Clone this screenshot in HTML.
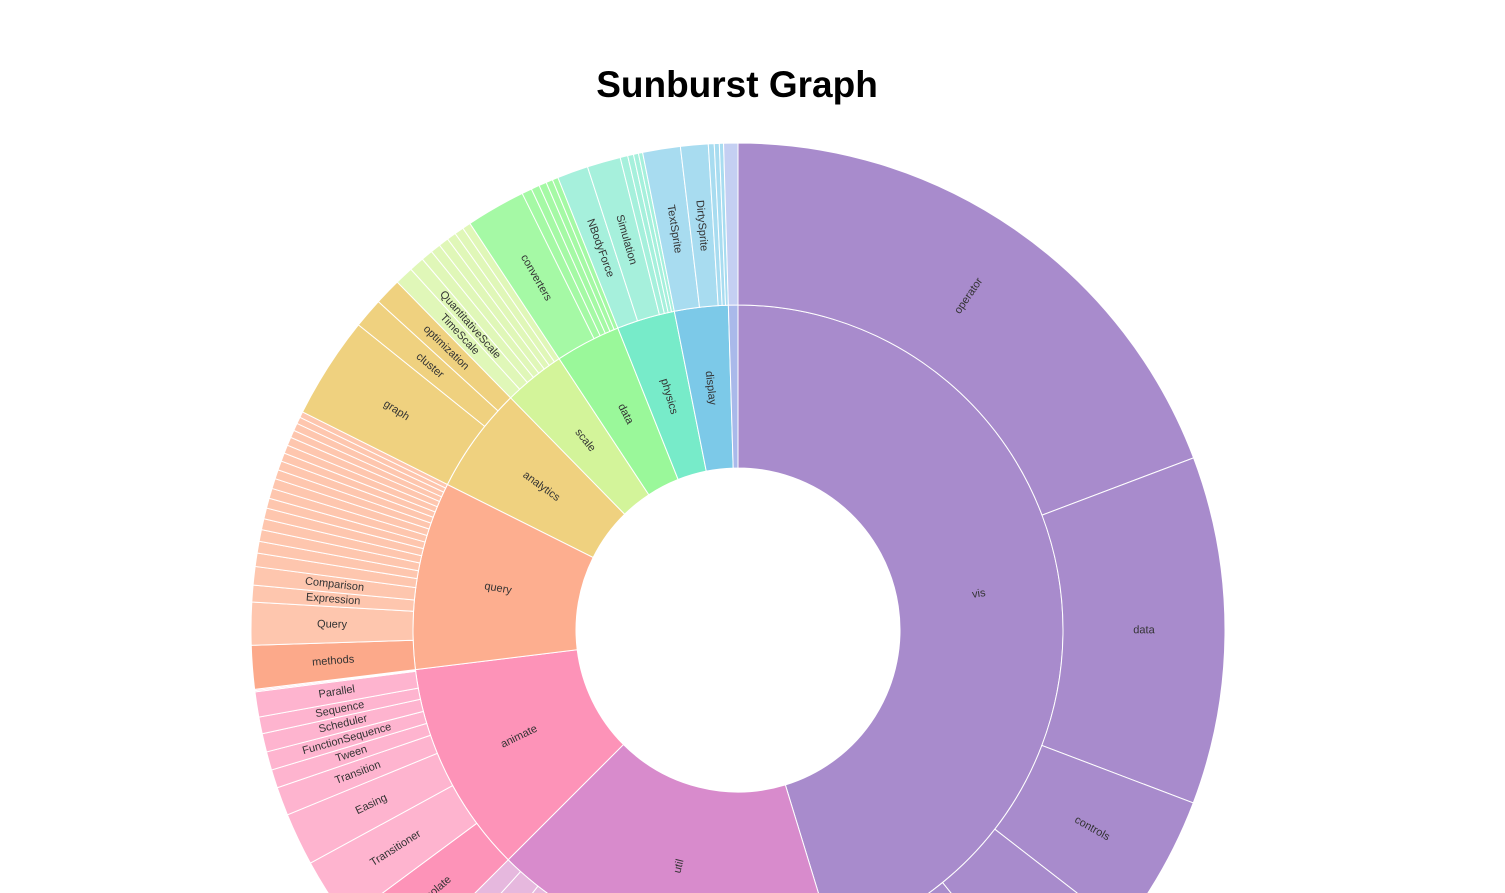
<!DOCTYPE html>
<html><head><meta charset="utf-8"><style>
html,body{margin:0;padding:0;background:#fff;width:1505px;height:893px;overflow:hidden}
svg{display:block}
</style></head><body>
<svg id="chart" width="1505" height="893" viewBox="0 0 1505 893">
<text x="737" y="97" text-anchor="middle" font-family="Liberation Sans, sans-serif" font-weight="bold" font-size="37" fill="#000">Sunburst Graph</text>
<g id="arcs"></g>
</svg>
<script>
const groupNames = ["vis","util","animate","query","analytics","scale","data","physics","display","flex"];
const groupLabels = ["vis","util","animate","query","analytics","scale","data","physics","display",""];
const groupColors = ["#a88bcc","#d88bcc","#fd93b8","#fdae8f","#efd17f","#d3f49a","#9af89a","#77ebc9","#7cc9e8","#a9b9ea"];
const childColors = ["#a88bcc","#e6b8de","#feb4cf","#fec6ae","#efd17f","#e0f7b8","#a5f9a5","#a6f0dc","#a8dcf0","#c4cff2"];
const childNames = [
 ["operator","data","controls","","",""],
 ["","","","","",""],
 ["interpolate","Transitioner","Easing","Transition","Tween","FunctionSequence","Scheduler","Sequence","Parallel","",""],
 ["methods","Query","Expression","Comparison","","","","","","","","","","","","","","","","",""],
 ["graph","cluster","optimization"],
 ["TimeScale","QuantitativeScale","","","","","",""],
 ["converters","","","","",""],
 ["NBodyForce","Simulation","","","",""],
 ["TextSprite","DirtySprite","","",""],
 [""]
];
const childValues = [
 [69.3,41.5,17,13.2,12,10],
 [20,15,12,8,4,3],
 [8.5,7.9,6.3,3.4,2.2,2.2,2.2,2.0,3.0,0.15,0.15],
 [5.2,5.1,2,2.2,1.6,1.4,1.4,1.3,1.3,1.2,1.2,1.2,1.1,1.1,1.0,1.0,1.0,0.9,0.9,0.8,0.7],
 [12.2,3.6,3.2],
 [2.2,1.8,1.4,1.2,1.2,1.1,1.1,1.0],
 [7.1,1.2,1.0,0.9,0.8,0.7],
 [3.7,4,0.9,0.7,0.6,0.5],
 [4.5,3.3,0.7,0.6,0.5],
 [1.7]
];
const CX=738, CY=630, R0=162, R1=325, R2=487;
const g=document.getElementById('arcs');
const total=childValues.flat().reduce((a,b)=>a+b,0);
const ang=v=>v/total*2*Math.PI;
function pt(a,r){return [CX+r*Math.sin(a),CY-r*Math.cos(a)];}
function arc(a0,a1,ri,ro){
 const l=(a1-a0)>Math.PI?1:0;
 const [x0,y0]=pt(a0,ro),[x1,y1]=pt(a1,ro),[x2,y2]=pt(a1,ri),[x3,y3]=pt(a0,ri);
 return `M${x0},${y0}A${ro},${ro} 0 ${l} 1 ${x1},${y1}L${x2},${y2}A${ri},${ri} 0 ${l} 0 ${x3},${y3}Z`;
}
function addArc(a0,a1,ri,ro,fill,name,label){
 const p=document.createElementNS('http://www.w3.org/2000/svg','path');
 p.setAttribute('d',arc(a0,a1,ri,ro));p.setAttribute('fill',fill);
 p.setAttribute('stroke','#fff');p.setAttribute('stroke-width','1');
 
 
 g.appendChild(p);
 if(label){
  const m=(a0+a1)/2, [x,y]=pt(m,(ri+ro)/2), deg=m*180/Math.PI;
  const rot=deg<180?deg-90:deg-270;
  const t=document.createElementNS('http://www.w3.org/2000/svg','text');
  t.setAttribute('x',x);t.setAttribute('y',y);
  t.setAttribute('transform',`rotate(${rot},${x},${y})`);
  t.setAttribute('text-anchor','middle');t.setAttribute('dominant-baseline','middle');
  t.setAttribute('font-family','Liberation Sans, sans-serif');t.setAttribute('font-size','11');
  t.setAttribute('fill','#333');t.textContent=label;
  
  
  g.appendChild(t);
 }
}
let cum=0;
groupNames.forEach((gn,i)=>{
 const s=cum, sum=childValues[i].reduce((a,b)=>a+b,0);
 addArc(ang(s),ang(s+sum),R0,R1,groupColors[i],'arc-'+gn,groupLabels[i]);
 let c=s;
 childValues[i].forEach((v,j)=>{
  const nm=childNames[i][j];
  const col=(i==2&&j==0)?"#fd93b8":(i==3&&j==0)?"#fca98a":childColors[i];
  addArc(ang(c),ang(c+v),R1,R2,col,'arc-'+gn+'-'+(nm?nm.toLowerCase():'child-'+j),nm);
  c+=v;
 });
 cum+=sum;
});
</script>
</body></html>
